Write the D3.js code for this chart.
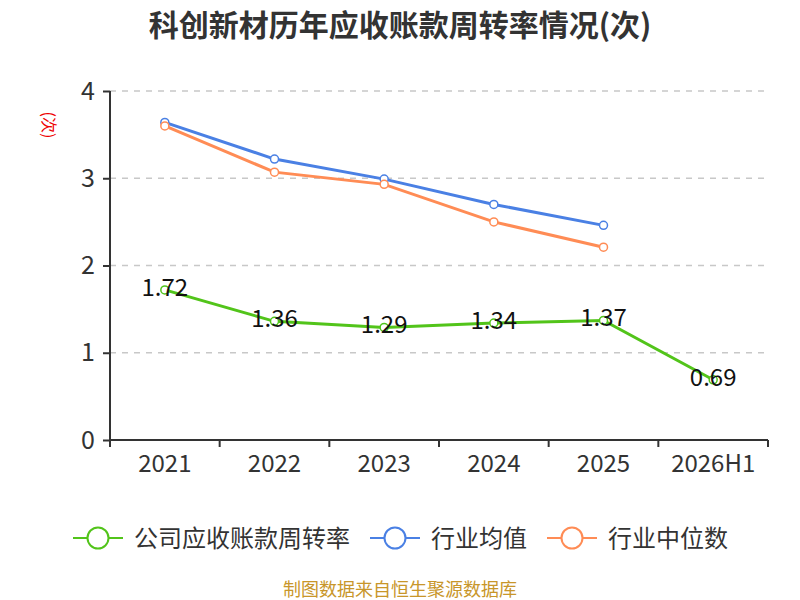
<!DOCTYPE html>
<html>
<head>
<meta charset="utf-8">
<script src="https://cdn.jsdelivr.net/npm/d3@7"></script>
<style>
  body { margin: 0; background: #fff; }
  text { font-family: "Noto Sans CJK SC", "Noto Sans", sans-serif; }
</style>
</head>
<body>
<script>
// chart data
var years = ["2021", "2022", "2023", "2024", "2025", "2026H1"];
var companyVals = [1.72, 1.36, 1.29, 1.34, 1.37, 0.69];
var avgVals = [3.64, 3.22, 2.99, 2.70, 2.46];
var medianVals = [3.60, 3.07, 2.93, 2.50, 2.21];
var yTicks = [0, 1, 2, 3, 4];
var seriesNames = ["公司应收账款周转率", "行业均值", "行业中位数"];
var seriesColors = ["#52c41a", "#4a80e4", "#ff8c55"];

var w = 800;
var h = 600;

var svg = d3.select("body").append("svg")
  .attr("width", w)
  .attr("height", h);

// title
svg.append("text")
  .attr("x", 400)
  .attr("y", 36)
  .attr("text-anchor", "middle")
  .style("font-size", "30px")
  .style("font-weight", "bold")
  .style("fill", "#333")
  .text("科创新材历年应收账款周转率情况(次)");

var xScale = d3.scaleBand()
  .domain(years)
  .range([110, 768]);

var yScale = d3.scaleLinear()
  .domain([0, 4])
  .range([440, 91]);

// gridlines
svg.selectAll(".grid")
  .data(yTicks.slice(1))
  .enter().append("line")
  .attr("x1", 110)
  .attr("x2", 768)
  .attr("y1", function(d) { return yScale(d); })
  .attr("y2", function(d) { return yScale(d); })
  .attr("stroke", "#c8c8c8")
  .attr("stroke-width", 1.5)
  .attr("stroke-dasharray", "6,6");

// y axis
var yAxis = svg.append("g")
  .attr("transform", "translate(110,0)")
  .call(d3.axisLeft(yScale).tickValues(yTicks).tickSize(7).tickPadding(8).tickFormat(d3.format("d")));
yAxis.selectAll("text").style("font-size", "25px").style("fill", "#333");
yAxis.selectAll("line, path").attr("stroke", "#333").attr("stroke-width", 2);
yAxis.select(".domain").attr("d", "M0,91V440");

// x axis
var xAxis = svg.append("g")
  .attr("transform", "translate(0,440)")
  .call(d3.axisBottom(xScale).tickSize(0).tickPadding(15));
xAxis.selectAll("text").style("font-size", "24px").style("fill", "#333");
xAxis.select(".domain").attr("stroke", "#333").attr("stroke-width", 2).attr("d", "M110,0H768");
xAxis.selectAll(".sep")
  .data(d3.range(years.length + 1))
  .enter().append("line")
  .attr("x1", function(i) { return 110 + i * xScale.bandwidth(); })
  .attr("x2", function(i) { return 110 + i * xScale.bandwidth(); })
  .attr("y1", 0)
  .attr("y2", 7)
  .attr("stroke", "#333")
  .attr("stroke-width", 2);

// y unit label
svg.append("text")
  .attr("transform", "translate(43,125) rotate(90)")
  .attr("text-anchor", "middle")
  .style("font-size", "16px")
  .style("fill", "#e00")
  .text("(次)");

var line = d3.line()
  .x(function(d, i) { return xScale(years[i]) + xScale.bandwidth() / 2; })
  .y(function(d) { return yScale(d); });

function drawSeries(vals, color) {
  svg.append("path")
    .datum(vals)
    .attr("d", line)
    .attr("fill", "none")
    .attr("stroke", color)
    .attr("stroke-width", 3);
  svg.append("g").selectAll("circle")
    .data(vals)
    .enter().append("circle")
    .attr("cx", function(d, i) { return xScale(years[i]) + xScale.bandwidth() / 2; })
    .attr("cy", function(d) { return yScale(d); })
    .attr("r", 4)
    .attr("fill", "#fff")
    .attr("stroke", color)
    .attr("stroke-width", 1.5);
}

drawSeries(avgVals, seriesColors[1]);
drawSeries(medianVals, seriesColors[2]);
drawSeries(companyVals, seriesColors[0]);

// data labels for company
svg.append("g").selectAll("text")
  .data(companyVals)
  .enter().append("text")
  .attr("x", function(d, i) { return xScale(years[i]) + xScale.bandwidth() / 2; })
  .attr("y", function(d) { return yScale(d) + 6; })
  .attr("text-anchor", "middle")
  .style("font-size", "24px")
  .style("fill", "#111")
  .text(function(d) { return d.toFixed(2); });

// legend
var legendX = [73, 370, 547];
var legend = svg.selectAll(".legend")
  .data(seriesNames)
  .enter().append("g")
  .attr("class", "legend")
  .attr("transform", function(d, i) { return "translate(" + legendX[i] + ",538)"; });

legend.append("line")
  .attr("x1", 0).attr("x2", 50)
  .attr("y1", 0).attr("y2", 0)
  .attr("stroke", function(d, i) { return seriesColors[i]; })
  .attr("stroke-width", 2);

legend.append("circle")
  .attr("cx", 25).attr("cy", 0).attr("r", 10.5)
  .attr("fill", "#fff")
  .attr("stroke", function(d, i) { return seriesColors[i]; })
  .attr("stroke-width", 2);

legend.append("text")
  .attr("x", 61)
  .attr("y", 9)
  .style("font-size", "24px")
  .style("fill", "#333")
  .text(function(d) { return d; });

// source footer
svg.append("text")
  .attr("x", 400)
  .attr("y", 596)
  .attr("text-anchor", "middle")
  .style("font-size", "18px")
  .style("fill", "#c8962a")
  .text("制图数据来自恒生聚源数据库");
</script>
</body>
</html>
